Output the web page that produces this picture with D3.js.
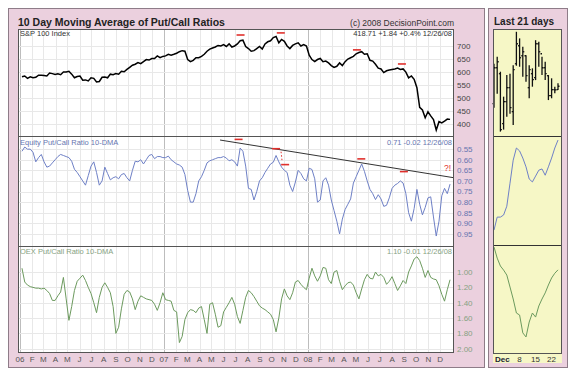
<!DOCTYPE html>
<html>
<head>
<meta charset="utf-8">
<script src="https://cdn.jsdelivr.net/npm/d3@7"></script>
<style>
  body { margin: 0; background: #fff; }
  svg { display: block; font-family: "Liberation Sans", Arial, sans-serif; }
</style>
</head>
<body>
<div id="container"></div>
<script>
// weekly (Friday) readings, Jan 6 2006 .. Dec 26 2008
const spxWeekly = [
  582,585,576,582, 578,580,588,588, 587,585,596,594,591, 593,590,600,600, 603,592,578,583, 585,569,570,566,578,
  576,562,564,580, 581,578,592,590, 594,592,603,601,610, 618,626,630,636, 632,640,648,646, 652,652,662,655,660,
  662,668,665,668, 672,678,682,680, 648,640,645,655,655, 660,668,680,688, 692,696,702,700, 705,698,708,696,700,
  708,720,722,698, 690,680,682,690,698, 688,708,716,720, 732,736,712,725, 718,700,690,702,708, 712,700,705,700,
  665,648,640,648, 652,640,642,635,625, 618,622,635,625, 640,650,655,660, 670,675,678,668,670, 645,642,630,615,
  612,598,605,608, 610,612,615,610,612, 600,578,585,572, 540,465,455,425,448, 432,418,378,410, 405,412,420,418.71
];
const equityPC = [
  0.56,0.54,0.55,0.55,0.565,0.61,0.59,0.575,0.61,0.635, 0.63,0.615,0.60,0.585,0.575,0.58,0.585,0.59,0.607,0.645,
  0.66,0.68,0.70,0.72,0.675,0.63,0.61,0.66,0.72,0.70, 0.635,0.665,0.695,0.685,0.68,0.69,0.67,0.665,0.685,0.70,
  0.65,0.607,0.61,0.60,0.62,0.60,0.58,0.575,0.595,0.585, 0.585,0.59,
  0.59,0.583,0.60,0.61,0.62,0.625,0.635,0.67,0.745,0.80, 0.80,0.76,0.70,0.68,0.65,0.615,0.605,0.60,0.595,0.59,
  0.59,0.585,0.592,0.605,0.60,0.61,0.63,0.545,0.56,0.63, 0.735,0.74,0.79,0.75,0.70,0.685,0.66,0.64,0.62,0.612,
  0.58,0.61,0.635,0.65,0.66,0.72,0.75,0.705,0.65,0.665, 0.69,0.70,
  0.64,0.646,0.69,0.80,0.79,0.70,0.685,0.72,0.79,0.84, 0.89,0.95,0.88,0.835,0.81,0.785,0.71,0.68,0.65,0.62,
  0.655,0.70,0.74,0.76,0.788,0.765,0.785,0.82,0.815,0.78, 0.735,0.72,0.712,0.70,0.71,0.76,0.85,0.89,0.83,0.74,
  0.81,0.86,0.825,0.78,0.775,0.87,0.96,0.89,0.77,0.735, 0.76,0.715
];
const oexPC = [
  0.95,1.13,1.17,1.19,1.20,1.21,1.21,1.22,1.21,1.24, 1.28,1.37,1.37,1.31,1.26,1.07,1.35,1.63,1.45,1.24,
  1.12,1.08,1.04,1.11,1.20,1.28,1.40,1.53,1.33,1.20, 1.14,1.20,1.27,1.45,1.80,1.72,1.48,1.29,1.24,1.26,
  1.35,1.49,1.38,1.31,1.33,1.35,1.36,1.37,1.42,1.50, 1.40,1.27,
  1.36,1.37,1.38,1.50,1.52,1.92,1.84,1.62,1.53,1.49, 1.50,1.53,1.47,1.45,1.62,1.80,1.42,1.40,1.55,1.72,
  1.70,1.52,1.46,1.40,1.33,1.42,1.58,1.67,1.50,1.33, 1.24,1.27,1.32,1.38,1.44,1.47,1.49,1.52,1.55,1.62,
  1.78,1.60,1.35,1.22,1.31,1.36,1.27,1.13,1.11,1.16, 1.20,1.23,
  1.08,0.95,1.05,1.12,1.05,0.94,0.95,1.10,1.15,1.00, 0.98,1.12,1.23,1.18,1.14,1.13,1.17,1.27,1.35,1.22,
  1.10,1.03,1.08,1.09,1.00,1.05,1.03,1.07,1.16,1.12, 1.06,1.15,1.24,1.18,1.11,1.15,1.00,0.92,0.83,0.80,
  0.85,0.95,1.07,0.98,1.07,1.09,1.10,1.18,1.29,1.38, 1.23,1.10
];

const spxTicks = [400, 450, 500, 550, 600, 650, 700];
const equityTicks = [0.55, 0.60, 0.65, 0.70, 0.75, 0.80, 0.85, 0.90, 0.95];
const oexTicks = [1.00, 1.20, 1.40, 1.60, 1.80, 2.00];

// red marks and trend line drawn on the chart
const spxMarkDates = ["2007-07-14", "2007-10-24", "2008-05-04", "2008-08-26"];
const spxMarkValues = [742, 750, 685, 631];
const eqMarkDates = ["2007-07-09", "2007-10-12", "2007-11-04", "2008-05-15", "2008-08-31"];
const eqMarkValues = [0.504, 0.548, 0.623, 0.596, 0.656];
const trendDates = ["2007-05-23", "2009-01-05"];
const trendValues = [0.507, 0.685];

// last 21 days
const recentDays = ["2008-11-26","2008-11-28","2008-12-01","2008-12-02","2008-12-03","2008-12-04","2008-12-05",
  "2008-12-08","2008-12-09","2008-12-10","2008-12-11","2008-12-12","2008-12-15","2008-12-16","2008-12-17",
  "2008-12-18","2008-12-19","2008-12-22","2008-12-23","2008-12-24","2008-12-26"];
const recentOpen  = [410, 428, 425, 400, 411, 418, 406, 430, 439, 434, 434, 418, 425, 423, 440, 435, 428, 424, 414, 417, 417];
const recentHigh  = [430, 433.5, 426, 413.5, 424.3, 425, 429.3, 446, 442.7, 438.5, 434.3, 429.3, 427.7, 441.8, 441, 433.5, 431, 424.3, 422.7, 418.5, 420.2];
const recentLow   = [408, 415, 396, 397, 403.5, 405, 399.3, 429, 428.5, 423.5, 421, 412.7, 418.5, 421.8, 428.5, 424.3, 421.8, 411.8, 412.7, 415.2, 416.8];
const recentClose = [428, 431, 397, 411, 418, 408, 427, 440, 433, 436, 424, 427, 422, 440, 436, 428, 425, 414, 417, 416.9, 418.71];
const recentEquity = [0.923,0.892,0.892,0.887,0.866,0.811,0.756,0.727,0.734,0.751,0.772,0.801,0.808,0.794,0.780,0.777,0.792,0.772,0.751,0.727,0.708];
const recentOex = [0.999,1.048,1.083,1.101,1.123,1.176,1.229,1.291,1.300,1.379,1.397,1.331,1.291,1.309,1.260,1.229,1.202,1.167,1.136,1.115,1.100];

const W = 576, H = 380;
const parse = d3.timeParse("%Y-%m-%d");
const weeks = d3.timeFriday.range(new Date(2006, 0, 6), new Date(2008, 11, 27));

const plot = { left: 18, right: 454, top: 29, bottom: 353 };
const panels = [
  { top: 29, bottom: 136 },
  { top: 136, bottom: 246 },
  { top: 246, bottom: 353 }
];

const x = d3.scaleTime()
  .domain([new Date(2006, 0, 1), new Date(2009, 0, 5)])
  .range([20, 454]);
const ySpx = d3.scaleLinear().domain([355, 765]).range([136, 29]);
const yEq = d3.scaleLinear().domain([0.488, 1.007]).range([136, 246]);
const yOex = d3.scaleLinear().domain([0.66, 2.056]).range([246, 353]);

const xR = d3.scalePoint().domain(recentDays).range([494, 558]);
const yRSpx = d3.scaleLinear().domain([393.8, 447.4]).range([136, 29]);
const yREq = d3.scaleLinear().domain([0.70, 0.961]).range([136.7, 246]);
const yROex = d3.scaleLinear().domain([0.99, 1.468]).range([245, 353]);

const blue = "#6e80c6", green = "#6c9a5e", red = "#e0302c";

const svg = d3.create("svg").attr("width", W).attr("height", H);
svg.append("rect").attr("width", W).attr("height", H).attr("fill", "#fff");

// frames
svg.append("rect").attr("x", 8.5).attr("y", 8.5).attr("width", 476).attr("height", 359)
  .attr("fill", "#ebd0de").attr("stroke", "#8e7c88");
svg.append("rect").attr("x", 488.5).attr("y", 8.5).attr("width", 79).attr("height", 359)
  .attr("fill", "#ebd0de").attr("stroke", "#8e7c88");
svg.append("rect").attr("x", 493).attr("y", 29).attr("width", 69).attr("height", 334)
  .attr("fill", "#f6f7c6");
svg.append("rect").attr("x", plot.left).attr("y", plot.top)
  .attr("width", plot.right - plot.left).attr("height", plot.bottom - plot.top)
  .attr("fill", "#fff");

const defs = svg.append("defs");
panels.forEach((p, i) => {
  defs.append("clipPath").attr("id", "clip" + i).append("rect")
    .attr("x", plot.left).attr("y", p.top).attr("width", plot.right - plot.left).attr("height", p.bottom - p.top);
});

// grid
const grid = svg.append("g").attr("shape-rendering", "crispEdges");
const months = d3.timeMonth.range(new Date(2006, 0, 1), new Date(2009, 0, 1));
grid.selectAll("line.v").data(months).join("line")
  .attr("x1", d => Math.round(x(d)) + 0.5).attr("x2", d => Math.round(x(d)) + 0.5)
  .attr("y1", plot.top).attr("y2", plot.bottom)
  .attr("stroke", d => d.getMonth() === 0 ? "#bdbdbd" : "#e8e8e8");

const hGrid = (ticks, y) => grid.append("g").selectAll("line").data(ticks).join("line")
  .attr("x1", plot.left).attr("x2", plot.right)
  .attr("y1", d => Math.round(y(d)) + 0.5).attr("y2", d => Math.round(y(d)) + 0.5)
  .attr("stroke", "#e8e8e8");
hGrid(spxTicks, ySpx);
hGrid(equityTicks, yEq);
hGrid(oexTicks, yOex);

// series lines
const line = (y) => d3.line().x((d, i) => x(weeks[i])).y(d => y(d));
svg.append("path").datum(spxWeekly).attr("clip-path", "url(#clip0)")
  .attr("d", line(ySpx)).attr("fill", "none").attr("stroke", "#000").attr("stroke-width", 1.5);
svg.append("path").datum(equityPC).attr("clip-path", "url(#clip1)")
  .attr("d", line(yEq)).attr("fill", "none").attr("stroke", blue).attr("stroke-width", 1);
svg.append("path").datum(oexPC).attr("clip-path", "url(#clip2)")
  .attr("d", line(yOex)).attr("fill", "none").attr("stroke", green).attr("stroke-width", 1);

// trend line + annotations
svg.append("line").attr("clip-path", "url(#clip1)")
  .attr("x1", x(parse(trendDates[0]))).attr("y1", yEq(trendValues[0]))
  .attr("x2", x(parse(trendDates[1]))).attr("y2", yEq(trendValues[1]))
  .attr("stroke", "#333").attr("stroke-width", 1);

const marks = (dates, values, y) => svg.append("g").selectAll("line").data(dates).join("line")
  .attr("x1", d => x(parse(d)) - 4).attr("x2", d => x(parse(d)) + 4)
  .attr("y1", (d, i) => y(values[i])).attr("y2", (d, i) => y(values[i]))
  .attr("stroke", red).attr("stroke-width", 1.6);
marks(spxMarkDates, spxMarkValues, ySpx);
marks(eqMarkDates, eqMarkValues, yEq);
svg.append("line")
  .attr("x1", x(parse(eqMarkDates[1])) + 5).attr("y1", yEq(eqMarkValues[1]) + 3)
  .attr("x2", x(parse(eqMarkDates[2])) - 3).attr("y2", yEq(eqMarkValues[2]) - 3)
  .attr("stroke", red).attr("stroke-width", 1).attr("stroke-dasharray", "1.5,2");
svg.append("text").attr("x", 444).attr("y", 171).attr("font-size", 8.5).attr("fill", red).text("?!");

// panel separators and border
svg.append("g").attr("shape-rendering", "crispEdges").selectAll("line").data([136, 246]).join("line")
  .attr("x1", plot.left).attr("x2", plot.right).attr("y1", d => d + 0.5).attr("y2", d => d + 0.5)
  .attr("stroke", "#555");
svg.append("rect").attr("x", plot.left + 0.5).attr("y", plot.top + 0.5)
  .attr("width", plot.right - plot.left - 1).attr("height", plot.bottom - plot.top - 1)
  .attr("fill", "none").attr("stroke", "#555").attr("shape-rendering", "crispEdges");

// y labels
const yLabels = (ticks, y, fmt, color) => svg.append("g").attr("font-size", 8).attr("fill", color)
  .selectAll("text").data(ticks).join("text")
  .attr("x", 457).attr("y", d => y(d)).attr("dy", "0.35em").text(fmt);
yLabels(spxTicks, ySpx, d3.format("d"), "#444");
yLabels(equityTicks, yEq, d3.format(".2f"), "#6676b0");
yLabels(oexTicks, yOex, d3.format(".2f"), "#86a282");

// x labels
const fmtMon = d3.timeFormat("%b"), fmtYr = d3.timeFormat("%y");
svg.append("g").attr("font-size", 8).attr("fill", "#555").attr("text-anchor", "middle")
  .selectAll("text").data(months).join("text")
  .attr("x", d => x(d)).attr("y", 362)
  .text(d => d.getMonth() === 0 ? fmtYr(d) : fmtMon(d)[0]);

// titles
svg.append("text").attr("x", 18).attr("y", 26).attr("font-size", 10.5).attr("font-weight", "bold")
  .attr("fill", "#222").text("10 Day Moving Average of Put/Call Ratios");
svg.append("text").attr("x", 454).attr("y", 25.5).attr("font-size", 8.5).attr("text-anchor", "end")
  .attr("fill", "#333").text("(c) 2008 DecisionPoint.com");

const panelText = (y, left, right, color) => {
  svg.append("text").attr("x", 20).attr("y", y).attr("font-size", 7.5).attr("fill", color).text(left);
  svg.append("text").attr("x", 452).attr("y", y).attr("font-size", 7.5).attr("text-anchor", "end")
    .attr("fill", color).text(right);
};
panelText(35.5, "S&P 100 Index", "418.71 +1.84 +0.4% 12/26/08", "#333");
panelText(144.5, "Equity Put/Call Ratio 10-DMA", "0.71  -0.02  12/26/08", "#6676b0");
panelText(253.5, "OEX Put/Call Ratio 10-DMA", "1.10  -0.01  12/26/08", "#86a282");

// right panel: last 21 days
svg.append("text").attr("x", 494).attr("y", 25).attr("font-size", 10).attr("font-weight", "bold")
  .attr("fill", "#222").text("Last 21 days");

const bars = svg.append("g").attr("stroke", "#111").attr("stroke-width", 1.3)
  .selectAll("g").data(recentDays).join("g");
bars.append("line")
  .attr("x1", d => xR(d)).attr("x2", d => xR(d))
  .attr("y1", (d, i) => yRSpx(recentHigh[i])).attr("y2", (d, i) => yRSpx(recentLow[i]));
bars.append("line")
  .attr("x1", d => xR(d) - 1.5).attr("x2", d => xR(d))
  .attr("y1", (d, i) => yRSpx(recentOpen[i])).attr("y2", (d, i) => yRSpx(recentOpen[i]));
bars.append("line")
  .attr("x1", d => xR(d)).attr("x2", d => xR(d) + 1.5)
  .attr("y1", (d, i) => yRSpx(recentClose[i])).attr("y2", (d, i) => yRSpx(recentClose[i]));

const lineR = (y) => d3.line().x((d, i) => xR(recentDays[i])).y(d => y(d));
svg.append("path").datum(recentEquity).attr("d", lineR(yREq))
  .attr("fill", "none").attr("stroke", blue).attr("stroke-width", 1);
svg.append("path").datum(recentOex).attr("d", lineR(yROex))
  .attr("fill", "none").attr("stroke", green).attr("stroke-width", 1);

svg.append("g").attr("shape-rendering", "crispEdges").selectAll("line").data([136.5, 245.5]).join("line")
  .attr("x1", 493).attr("x2", 562).attr("y1", d => d).attr("y2", d => d).attr("stroke", "#333");
svg.append("rect").attr("x", 493.5).attr("y", 29.5).attr("width", 68).attr("height", 324)
  .attr("fill", "none").attr("stroke", "#555").attr("shape-rendering", "crispEdges");

svg.append("text").attr("x", 495).attr("y", 362).attr("font-size", 8).attr("font-weight", "bold")
  .attr("fill", "#223").text("Dec");
svg.append("g").attr("font-size", 8).attr("fill", "#333").attr("text-anchor", "middle")
  .selectAll("text").data(["2008-12-08", "2008-12-15", "2008-12-22"]).join("text")
  .attr("x", d => xR(d) + 3).attr("y", 362).text(d => +d.slice(8));

const container = document.getElementById("container");
container.appendChild(svg.node());
</script>
</body>
</html>
